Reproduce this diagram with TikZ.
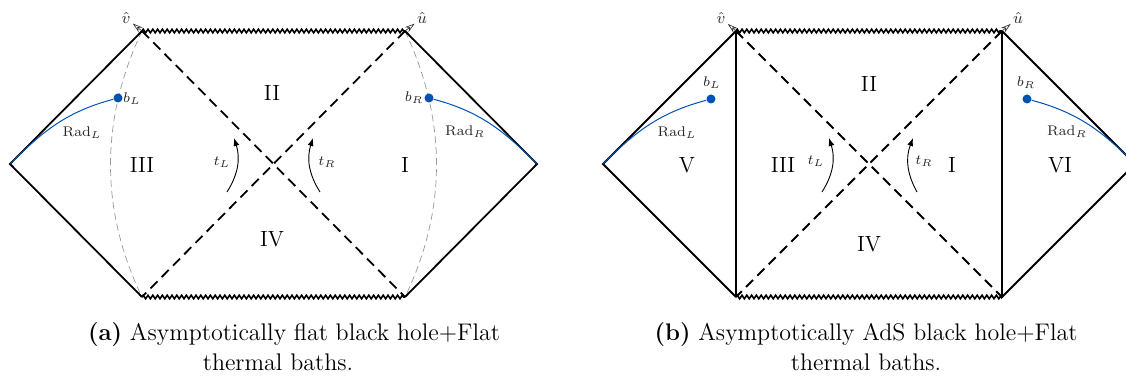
\documentclass[tikz,border=0pt]{standalone}
\usetikzlibrary{decorations.pathmorphing,arrows.meta}
\definecolor{bluec}{RGB}{0,82,180}
\begin{document}
\begin{tikzpicture}[x=0.5pt,y=0.5pt,
  nullline/.style={line width=0.9pt},
  horizon/.style={line width=0.9pt, dash pattern=on 5pt off 3pt},
  sing/.style={line width=0.8pt, decorate, decoration={zigzag,segment length=2.4pt,amplitude=0.9pt}},
  bdry/.style={gray!80, line width=0.35pt, dash pattern=on 3.5pt off 2pt},
  rad/.style={bluec, line width=0.5pt},
  bdot/.style={circle, fill=bluec, inner sep=0pt, minimum size=4.5pt},
  regionlab/.style={font=\fontsize{11}{13}\selectfont, inner sep=1pt},
  lab/.style={font=\fontsize{7.5}{9}\selectfont, text=black!85, inner sep=1pt},
  hatlab/.style={font=\fontsize{8}{9}\selectfont, text=black!80, inner sep=1pt},
  tarrow/.style={line width=0.45pt, -{Latex[length=4pt,width=3pt]}},
  hatarrow/.style={line width=0.3pt, black!85, -{Stealth[open,length=5pt,width=3pt]}},
  captext/.style={font=\fontsize{12}{14}\selectfont, inner sep=0pt}]
\useasboundingbox (0,0) rectangle (1126,380);
\clip (0,0) rectangle (1126,380);

% ---------- (a) ----------
\coordinate (aL) at (10,216);
\coordinate (aTL) at (142,349);
\coordinate (aTR) at (405,349);
\coordinate (aBL) at (142,83);
\coordinate (aBR) at (405,83);
\coordinate (aR) at (537,216);

\draw[bdry] (aTL) .. controls (100,260) and (100,170) .. (aBL);
\draw[bdry] (aTR) .. controls (447,260) and (447,170) .. (aBR);

\draw[nullline] (aBL) -- (aL) -- (aTL);
\draw[nullline] (aTR) -- (aR) -- (aBR);
\draw[sing] (aTL) -- (aTR);
\draw[sing] (aBL) -- (aBR);
\draw[horizon] (aTL) -- (aBR);
\draw[horizon] (aTR) -- (aBL);

\node[bdot] (abL) at (118,282) {};
\node[bdot] (abR) at (429,282) {};
\draw[rad] (aL) to[out=45,in=195] (abL);
\draw[rad] (aR) to[out=135,in=-15] (abR);
\node[lab] (abLt) at (132,281) {$b_L$};
\node[lab] (abRt) at (414,282) {$b_R$};
\node[lab] (aRadL) at (82,247) {$\mathrm{Rad}_L$};
\node[lab] (aRadR) at (465,248) {$\mathrm{Rad}_R$};

\node[regionlab] (aII) at (272,287) {II};
\node[regionlab] (aIII) at (142,215) {III};
\node[regionlab] (aI) at (405,215) {I};
\node[regionlab] (aIV) at (272,141) {IV};

\coordinate (atL1) at (227,188);
\coordinate (atL2) at (234,242);
\draw[tarrow] (atL1) to[bend right=25] (atL2);
\node[lab] (atLt) at (222,218) {$t_L$};
\coordinate (atR1) at (320,188);
\coordinate (atR2) at (313,242);
\draw[tarrow] (atR1) to[bend left=25] (atR2);
\node[lab] (atRt) at (327,218) {$t_R$};

\node[hatlab] (avh) at (126,362) {$\hat v$};
\node[hatlab] (auh) at (422,362) {$\hat u$};
\draw[hatarrow] (aTL) -- (avh);
\draw[hatarrow] (aTR) -- (auh);

% ---------- (b) ----------
\coordinate (bL) at (603,216);
\coordinate (bTL) at (736,349);
\coordinate (bTR) at (1002,349);
\coordinate (bBL) at (736,83);
\coordinate (bBR) at (1002,83);
\coordinate (bR) at (1135,216);

\draw[nullline] (bBL) -- (bL) -- (bTL) -- (bBL);
\draw[nullline] (bTR) -- (bR) -- (bBR) -- (bTR);
\draw[sing] (bTL) -- (bTR);
\draw[sing] (bBL) -- (bBR);
\draw[horizon] (bTL) -- (bBR);
\draw[horizon] (bTR) -- (bBL);

\node[bdot] (bbL) at (711,281) {};
\node[bdot] (bbR) at (1027,281) {};
\draw[rad] (bL) to[out=45,in=195] (bbL);
\draw[rad] (bR) to[out=135,in=-15] (bbR);
\node[lab] (bbLt) at (712,297) {$b_L$};
\node[lab] (bbRt) at (1026,297) {$b_R$};
\node[lab] (bRadL) at (677,247) {$\mathrm{Rad}_L$};
\node[lab] (bRadR) at (1067,248) {$\mathrm{Rad}_R$};

\node[regionlab] (bV) at (687,215) {V};
\node[regionlab] (bIII) at (783,215) {III};
\node[regionlab] (bI) at (952,215) {I};
\node[regionlab] (bVI) at (1060,215) {VI};
\node[regionlab] (bII) at (869,296) {II};
\node[regionlab] (bIV) at (869,136) {IV};

\coordinate (btL1) at (822,188);
\coordinate (btL2) at (829,242);
\draw[tarrow] (btL1) to[bend right=25] (btL2);
\node[lab] (btLt) at (816,219) {$t_L$};
\coordinate (btR1) at (917,188);
\coordinate (btR2) at (913,242);
\draw[tarrow] (btR1) to[bend left=25] (btR2);
\node[lab] (btRt) at (924,219) {$t_R$};

\node[hatlab] (bvh) at (721,362) {$\hat v$};
\node[hatlab] (buh) at (1018,362) {$\hat u$};
\draw[hatarrow] (bTL) -- (bvh);
\draw[hatarrow] (bTR) -- (buh);

% ---------- captions ----------
\node[captext] (capa1) at (294,45) {\textbf{(a)} Asymptotically flat black hole+Flat};
\node[captext] (capa2) at (278,18) {thermal baths.};
\node[captext] (capb1) at (866,45) {\textbf{(b)} Asymptotically AdS black hole+Flat};
\node[captext] (capb2) at (866,18) {thermal baths.};
\end{tikzpicture}
\end{document}
